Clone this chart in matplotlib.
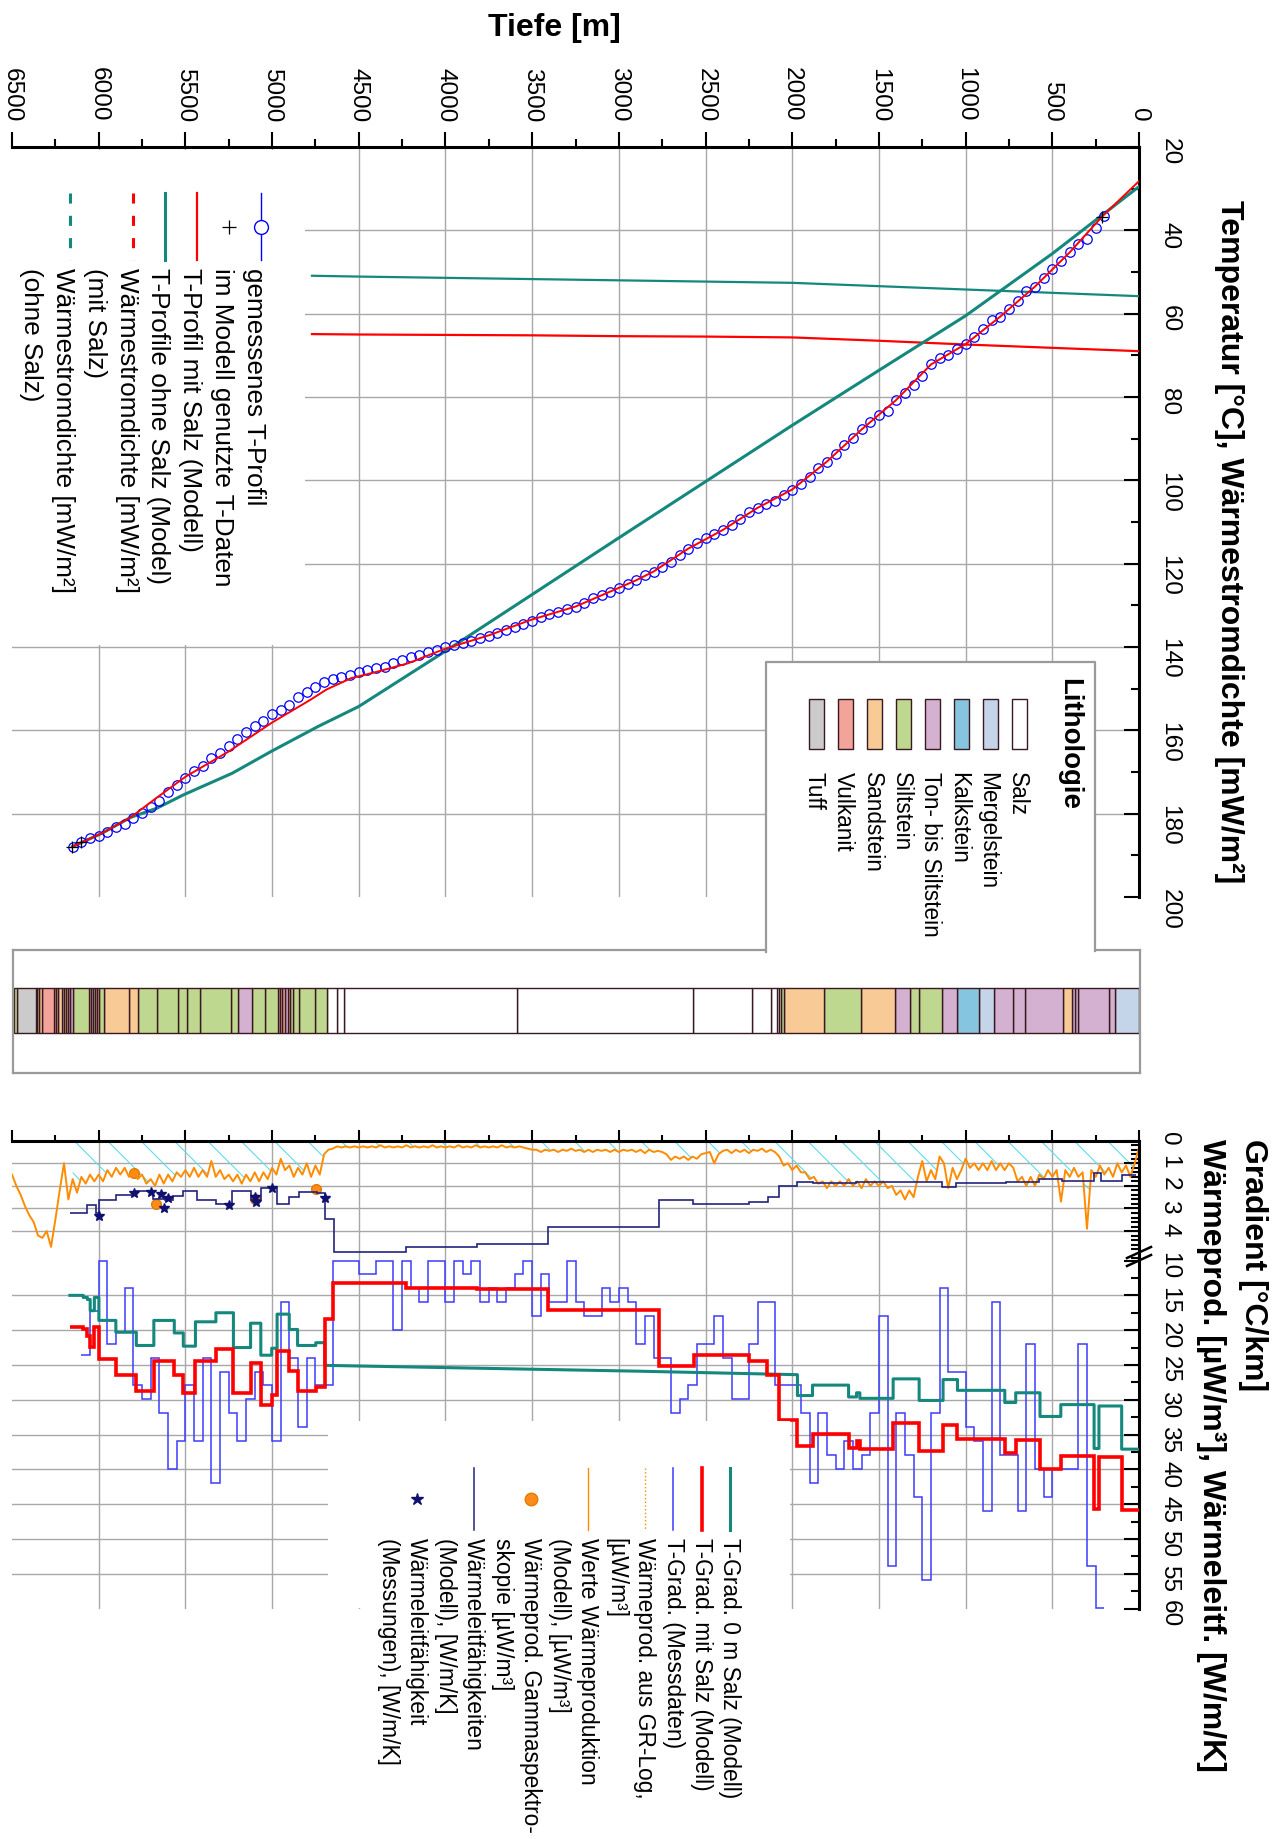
import numpy as np
import matplotlib
matplotlib.use("Agg")
import matplotlib.pyplot as plt
from matplotlib.patches import Rectangle
from matplotlib.ticker import MultipleLocator, FixedLocator, NullFormatter

plt.rcParams['font.family'] = ['Liberation Sans', 'DejaVu Sans']
CYAN = '#5fdcec'
plt.rcParams['hatch.linewidth'] = 0.8
plt.rcParams['hatch.color'] = CYAN

# ------------------------------------------------------------------ data
# measured temperature profile, one value every 50 m starting at 200 m
meas_temp = [36.5, 39.5, 42.2, 43.3, 45.3, 47.3, 49.3, 51.5, 53.5, 54.6,
             56.9, 58.8, 60.7, 61.5, 63.8, 65.6, 67.3, 68.6, 69.9, 70.6,
             72.2, 75.0, 77.2, 79.1, 80.7, 83.4, 84.3, 85.9, 87.8, 89.8,
             91.6, 93.6, 95.5, 97.1, 99.2, 100.8, 102.2, 103.6, 105.0, 105.8,
             106.6, 107.7, 109.2, 110.7, 111.9, 112.8, 113.9, 115.0, 116.4, 117.9,
             119.5, 120.7, 121.9, 122.8, 123.9,
             124.9, 125.9, 126.9, 127.5, 128.3, 129.5, 130.3, 130.9, 131.5, 132.1,
             132.9, 133.7, 134.5, 135.1, 135.9, 136.7, 137.4, 137.9, 138.6, 139.0,
             139.5, 140.1, 140.6, 141.1, 141.8, 142.5, 143.1, 143.8, 144.9, 145.1,
             145.5, 146.1, 146.7, 147.1, 147.7, 148.4, 149.5, 150.9, 152.1, 153.9,
             155.1, 156.1, 157.8, 159.0, 160.4, 162.0, 163.7, 165.4, 166.7, 168.6,
             169.8, 171.5, 173.0, 174.9, 176.9, 178.5, 179.9, 181.1, 182.5, 183.1,
             184.3, 185.4, 185.8, 186.7, 187.9]
meas_depth = 200 + 50 * np.arange(len(meas_temp))

# temperature points used in the model
used_depth = [213, 6101, 6152]
used_temp = [36.7, 186.7, 187.9]

# modelled T-profile with salt
red_T_depth = [0, 213, 400, 600, 800, 1000, 1200, 1400, 1600, 1800, 2000, 2200, 2400,
               2600, 2800, 2901, 3000, 3250, 3508, 3750, 4001, 4215, 4400, 4545, 4686,
               4780, 4999, 5251, 5498, 5663, 5816, 5981, 6151]
red_T = [28.2, 36.7, 45.3, 53.5, 60.7, 67.3, 72.2, 80.7, 87.8, 95.5, 102.2, 106.6, 111.9,
         116.4, 121.9, 124.0, 125.8, 130.3, 133.5, 137.2, 140.4, 143.9, 146.0, 147.5, 150.2,
         152.7, 158.1, 165.1, 171.1, 176.1, 180.9, 184.7, 187.9]

# modelled T-profile without salt
teal_T_depth = [0, 500, 1000, 1500, 2000, 2500, 3000, 3500, 4004, 4501, 4736, 5007,
                5230, 5512, 5665, 5816, 5981, 6151]
teal_T = [29.5, 45.6, 60.5, 73.6, 86.8, 100.3, 113.8, 127.4, 141.1, 154.3, 159.1, 165.1,
          170.3, 175.5, 178.7, 180.9, 184.7, 187.9]

# heat flow density [mW/m2]
hf_depth = [0, 500, 1000, 1500, 2000, 2500, 3000, 3500, 4000, 4500, 4770]
hf_salt = [69.0, 68.2, 67.4, 66.5, 65.7, 65.5, 65.4, 65.2, 65.1, 65.0, 64.9]
hf_nosalt = [55.8, 55.0, 54.2, 53.4, 52.6, 52.3, 52.0, 51.7, 51.4, 51.1, 50.9]

# lithology column
litho_names = ["Salz", "Mergelstein", "Kalkstein", "Ton- bis Siltstein", "Siltstein",
               "Sandstein", "Vulkanit", "Tuff"]
litho_colors = ["#ffffff", "#c4d5ea", "#86c5e0", "#d4b1d1", "#bfd88f", "#f7ca96",
                "#f2a39a", "#cbcbcb"]
litho_edges = [0, 137, 171, 353, 369, 388, 439, 656, 726, 836, 924, 1048, 1138, 1267, 1318,
               1406, 1602, 1819, 2050, 2062, 2078, 2090, 2122, 2230, 2572, 3588, 4588, 4628,
               4682, 4752, 4842, 4882, 4895, 4907, 4924, 4940, 4952, 4964, 5038, 5113, 5199,
               5235, 5414, 5488, 5540, 5665, 5771, 5827, 5969, 5997, 6012, 6023, 6035, 6046,
               6058, 6147, 6166, 6176, 6188, 6202, 6214, 6234, 6247, 6258, 6329, 6343, 6354,
               6364, 6469, 6489]
litho_units = ["Mergelstein", "Ton- bis Siltstein", "Ton- bis Siltstein", "Ton- bis Siltstein",
               "Ton- bis Siltstein", "Sandstein", "Ton- bis Siltstein", "Ton- bis Siltstein",
               "Ton- bis Siltstein", "Mergelstein", "Kalkstein", "Ton- bis Siltstein",
               "Siltstein", "Siltstein", "Ton- bis Siltstein", "Sandstein", "Siltstein",
               "Sandstein", "Siltstein",
               "Salz", "Salz", "Salz", "Salz", "Salz", "Salz", "Salz", "Salz", "Salz",
               "Siltstein", "Siltstein", "Siltstein", "Siltstein",
               "Vulkanit", "Ton- bis Siltstein", "Vulkanit", "Sandstein", "Ton- bis Siltstein",
               "Siltstein", "Siltstein", "Ton- bis Siltstein", "Siltstein", "Siltstein",
               "Siltstein", "Siltstein", "Siltstein", "Siltstein", "Sandstein", "Sandstein",
               "Siltstein", "Sandstein", "Vulkanit", "Siltstein", "Ton- bis Siltstein",
               "Vulkanit", "Siltstein", "Ton- bis Siltstein", "Ton- bis Siltstein",
               "Sandstein", "Sandstein", "Ton- bis Siltstein", "Sandstein", "Sandstein",
               "Vulkanit", "Vulkanit", "Sandstein", "Sandstein", "Vulkanit", "Tuff", "Siltstein"]

# measured T-gradient [degC/km], 50 m intervals starting at 200 m
tgrad_meas = [59.9, 53.9, 22, 40, 40, 40, 44, 40, 22, 46,
              38, 38, 16, 46, 36, 33.9, 26, 26, 13.9, 31.9,
              55.9, 44, 38, 31.9, 53.9, 18, 31.9, 38, 40, 36,
              40, 38, 31.9, 42, 31.9, 27.9, 27.9, 27.9, 16, 16,
              22, 29.9, 29.9, 24, 18, 22, 22, 27.9, 29.9, 31.9,
              24, 24, 18, 22, 16, 13.9, 16, 13.9, 18, 18,
              16, 10, 16, 16, 12, 18, 10, 12, 13.9, 16,
              13.9, 16, 10, 12, 10, 16, 10, 10, 16, 13.9,
              10, 20, 10, 10, 12, 12, 10, 10, 10, 27.9,
              27.9, 24, 33.9, 24, 16, 36, 27.9, 26, 29.9, 36,
              31.9, 26, 42, 24, 36, 27.9, 36, 40, 31.9, 24,
              29.9, 27.9, 13.9, 20.3, 22, 10, 17.2, 23.6]
tgrad_edges = 200 + 50 * np.arange(len(tgrad_meas) + 1)

# modelled gradients (layer boundaries in m)
grad_edges_top = [0, 100, 231, 259, 451, 571, 711, 774, 1047, 1130, 1268, 1418, 1610, 1629,
                  1675, 1883, 1970]
red_grad_top = [45.9, 38.2, 45.7, 38.1, 40.0, 35.8, 37.7, 35.6, 33.7, 37.4, 33.4, 37.1, 36.0,
                36.9, 34.9, 36.6]
teal_grad_top = [37.1, 30.9, 37.0, 30.7, 32.4, 29.0, 30.4, 28.65, 27.1, 30.1, 27.0, 29.8,
                 29.0, 29.6, 27.9, 29.4]
red_salt_edges = [1970, 2079, 2146, 2248, 2565, 2767, 3407, 3818, 4230, 4647, 4696]
red_grad_salt = [32.96, 26.4, 24.4, 23.5, 25.2, 17.15, 14.1, 13.9, 13.2, 18.4]
teal_salt_depth = [1970, 2882, 4696]
teal_grad_salt = [26.4, 25.9, 25.06]
grad_edges_deep = [4696, 4748, 4853, 4901, 4971, 5002, 5065, 5124, 5223, 5324, 5442, 5512,
                   5564, 5682, 5783, 5901, 5999, 6025, 6049, 6065, 6089, 6166]
red_grad_deep = [28.1, 28.8, 25.9, 23.0, 29.3, 30.7, 24.7, 29.1, 22.7, 24.5, 29.0, 26.5,
                 24.4, 28.8, 26.4, 24.2, 19.6, 22.4, 20.9, 19.8, 19.5]
teal_grad_deep = [21.8, 22.2, 19.9, 17.7, 22.6, 23.6, 19.0, 22.5, 17.5, 18.8, 22.3, 20.4,
                  18.6, 22.2, 20.3, 18.6, 15.3, 17.2, 15.6, 15.3, 15.0]

# thermal conductivity model [W/m/K]
k_edges = [19, 96, 221, 259, 442, 576, 768, 1057, 1134, 1268, 1633, 1883, 1970, 2075, 2142,
           2248, 2575, 2767, 3407, 3818, 4230, 4642, 4696, 4740, 4842, 4901, 4971, 5065, 5124,
           5230, 5324, 5435, 5512, 5571, 5618, 5689, 5783, 5901, 5999, 6018, 6065, 6166]
k_model = [1.52, 1.78, 1.44, 1.78, 1.71, 1.81, 1.89, 2.03, 1.81, 1.81, 1.86, 1.81, 2.0, 2.51,
           2.70, 2.80, 2.62, 3.80, 4.57, 4.72, 4.91, 3.48, 2.33, 2.26, 2.51, 2.82, 2.11, 2.62,
           2.21, 2.82, 2.62, 2.21, 2.45, 2.62, 2.59, 2.21, 2.40, 2.62, 3.2, 2.85, 3.21]
# conductivity measurements
k_meas_depth = [5998, 5797, 5699, 5640, 5600, 5623, 5251, 5098, 5091, 4999, 4693]
k_meas = [3.33, 2.33, 2.27, 2.37, 2.55, 2.96, 2.84, 2.51, 2.70, 2.11, 2.52]
# heat production from gamma spectroscopy
gamma_depth = [5797, 5668, 5098, 4749]
gamma_A = [1.41, 2.82, 2.58, 2.14]

# heat production from GR-log [uW/m3], every 25 m from 0 m
gr_A = [0.3, 1.0, 1.6, 1.1, 1.4, 1.0, 1.6, 1.2, 1.5, 1.1, 1.6, 1.3, 3.9, 1.4, 1.6, 1.2, 1.6,
        1.3, 2.7, 1.3, 1.6,
        1.3, 1.7, 1.5, 2.0, 1.6, 2.0, 1.6, 1.8, 1.2, 1.0, 1.3, 1.0, 1.3, 0.9, 1.3, 1.0, 1.3,
        1.0, 1.2, 0.8,
        1.3, 1.7, 1.2, 2.1, 1.0, 0.7, 1.7, 1.3, 1.8, 0.9, 1.6, 2.5, 2.2, 2.6, 2.2, 2.4, 2.0,
        2.1, 1.8, 2.0,
        1.8, 2.0, 1.7, 2.1, 1.8, 2.0, 1.7, 2.0, 1.8, 2.0, 1.8, 2.1, 1.8, 1.9, 1.6, 1.7, 1.4,
        1.4, 1.1, 1.3,
        1.0, 1.1, 0.7, 0.5, 0.4, 0.5, 0.35, 0.45, 0.4, 0.55, 0.4, 0.5, 0.4, 0.55, 0.4, 0.45,
        0.6, 1.0, 0.5, 0.55,
        0.6, 0.8, 0.7, 0.85, 0.7, 0.8, 0.7, 0.85, 0.6, 0.5, 0.45, 0.5, 0.4, 0.55, 0.4, 0.5,
        0.4, 0.45, 0.4, 0.5,
        0.4, 0.5, 0.4, 0.45, 0.4, 0.5, 0.4, 0.5, 0.4, 0.45, 0.35, 0.45, 0.4, 0.5, 0.4, 0.45,
        0.4, 0.5, 0.4, 0.4,
        0.35, 0.3, 0.25, 0.3, 0.25, 0.3, 0.2, 0.3, 0.25, 0.3, 0.25, 0.3, 0.2, 0.3, 0.25, 0.3,
        0.2, 0.3, 0.25, 0.3,
        0.25, 0.3, 0.2, 0.3, 0.25, 0.3, 0.25, 0.3, 0.2, 0.3, 0.25, 0.3, 0.25, 0.3, 0.2, 0.3,
        0.25, 0.3, 0.25, 0.3,
        0.25, 0.3, 0.25, 0.3, 0.25, 0.35, 0.4, 0.6, 1.5, 1.1, 1.6, 1.0, 1.5, 1.2, 1.6, 1.1,
        1.3, 0.8, 1.5, 1.2,
        1.7, 1.4, 1.8, 1.4, 1.8, 1.5, 1.9, 1.5, 1.8, 1.5, 1.7, 1.3, 1.6, 0.9, 1.6, 1.3, 1.6,
        1.2, 1.6, 1.3,
        1.6, 1.4, 1.8, 1.5, 1.9, 1.5, 2.0, 1.7, 1.9, 1.5, 1.7, 1.3, 1.6, 1.2, 1.5, 1.2, 1.6,
        1.3, 1.8, 1.5,
        1.8, 1.5, 1.9, 1.6, 2.3, 1.7, 2.6, 1.0, 2.2, 3.5, 4.7, 4.0, 4.3, 4.2, 3.6, 3.3, 2.9,
        2.4, 2.0, 1.5]
gr_depth = 25 * np.arange(len(gr_A))

depth_ticks = np.arange(0, 6501, 500)
temp_ticks = np.arange(20, 201, 20)
grad_ticks = [0, 1, 2, 3, 4, 10, 15, 20, 25, 30, 35, 40, 45, 50, 55, 60]
grad_grid = [1, 2, 3, 4, 15, 20, 25, 30, 35, 40, 45, 50, 55]

# ------------------------------------------------------------------ styles
TEAL = '#15887e'
RED = '#ff0000'
BLUE = '#0000ff'
BLUE2 = '#3c3cff'
NAVY = '#23237d'
ORANGE = '#ff8c00'
GRID = '#a8a8a8'
FRAME = '#9a9a9a'
EDGE = '#3a1820'
TICK_FS = 17.6
TITLE_FS = 23.0

W, H = 1274, 1839
fig = plt.figure(figsize=(W / 100, H / 100), dpi=100)
fig.patch.set_facecolor('white')


def rect(x0, y0, x1, y1):
    return [x0 / W, 1 - y1 / H, (x1 - x0) / W, (y1 - y0) / H]


X0, X1 = 12, 1139

# ------------------------------------------------------------------ panel 1: temperature
ax1 = fig.add_axes(rect(X0, 147, X1, 897))
ax1.set_xlim(6500, 0)
ax1.set_ylim(200, 20)
for s in ['left', 'bottom']:
    ax1.spines[s].set_visible(False)
for s in ['top', 'right']:
    ax1.spines[s].set_linewidth(2.2)
ax1.xaxis.set_ticks_position('top')
ax1.yaxis.set_ticks_position('right')
ax1.set_xticks(depth_ticks)
ax1.xaxis.set_minor_locator(MultipleLocator(250))
ax1.set_yticks(temp_ticks)
ax1.yaxis.set_minor_locator(MultipleLocator(10))
ax1.tick_params(axis='x', which='major', direction='out', length=11, width=1.5,
                labelsize=TICK_FS, labelrotation=-90, pad=7)
ax1.tick_params(axis='x', which='minor', direction='out', length=6, width=1.5)
ax1.tick_params(axis='y', which='major', direction='in', length=11, width=1.5,
                labelsize=TICK_FS, labelrotation=-90, pad=14)
ax1.tick_params(axis='y', which='minor', direction='in', length=6, width=1.5)
for d in depth_ticks[1:-1]:
    ax1.axvline(d, color=GRID, lw=1.0, zorder=0)
for t in temp_ticks[1:-1]:
    ax1.axhline(t, color=GRID, lw=1.0, zorder=0)

ax1.plot(hf_depth, hf_nosalt, color=TEAL, lw=1.6, zorder=3)
ax1.plot(hf_depth, hf_salt, color=RED, lw=1.6, zorder=3)
ax1.plot(teal_T_depth, teal_T, color=TEAL, lw=2.2, zorder=3)
ax1.plot(meas_depth, meas_temp, 'o', mfc='none', mec=BLUE, ms=6.8, mew=0.9, zorder=4)
ax1.plot(red_T_depth, red_T, color=RED, lw=1.4, zorder=5)
ax1.plot(used_depth, used_temp, '+', color='black', ms=9, mew=0.9, zorder=6)

# ------------------------------------------------------------------ lithology column
axL = fig.add_axes(rect(X0 + 1, 950, X1 + 1, 1073))
axL.set_xlim(6500 - 6500 / 1127.0, -6500 / 1127.0)
axL.set_ylim(0, 1)
axL.set_xticks([])
axL.set_yticks([])
for s in axL.spines.values():
    s.set_color(FRAME)
    s.set_linewidth(1.6)
color_of = dict(zip(litho_names, litho_colors))
lt = np.array(litho_edges[:-1])
lb = np.array(litho_edges[1:])
axL.bar(lt, 0.366, width=lb - lt, bottom=0.325, align='edge',
        color=[color_of[u] for u in litho_units], edgecolor=EDGE, linewidth=1.0)

# ------------------------------------------------------------------ panel 2: gradients
VB = 5.3
UPPER = 6.96 / 22.6


def fwd(v):
    v = np.asarray(v, dtype=float)
    return np.where(v <= VB, v,
                    np.where(v < 10, VB + (v - VB) * 0.001,
                             VB + 0.0047 + (v - 10) * UPPER))


def inv(u):
    u = np.asarray(u, dtype=float)
    return np.where(u <= VB, u,
                    np.where(u < VB + 0.0047, VB + (u - VB) / 0.001,
                             10 + (u - VB - 0.0047) / UPPER))


ax2 = fig.add_axes(rect(X0, 1140.7, X1, 1608.5))
ax2.set_xlim(6500, 0)
ax2.set_yscale('function', functions=(fwd, inv))
ax2.set_ylim(60, 0)
for s in ['left', 'bottom']:
    ax2.spines[s].set_visible(False)
for s in ['top', 'right']:
    ax2.spines[s].set_linewidth(2.2)
ax2.xaxis.set_ticks_position('top')
ax2.yaxis.set_ticks_position('right')
ax2.set_xticks(depth_ticks)
ax2.xaxis.set_minor_locator(MultipleLocator(250))
ax2.tick_params(axis='x', which='major', direction='out', length=8, width=1.5,
                labeltop=False, labelbottom=False)
ax2.tick_params(axis='x', which='minor', direction='out', length=4.5, width=1.5)
ax2.yaxis.set_major_locator(FixedLocator(grad_ticks))
ax2.set_yticklabels([str(t) for t in grad_ticks])
minor_low = [round(0.2 * i, 1) for i in range(1, 27) if (0.2 * i) % 1 > 0.05 and (0.2 * i) % 1 < 0.95]
minor_up = [12.5 + 5 * i for i in range(10)]
ax2.yaxis.set_minor_locator(FixedLocator(minor_low + minor_up))
ax2.yaxis.set_minor_formatter(NullFormatter())
ax2.tick_params(axis='y', which='major', direction='in', length=11, width=1.5,
                labelsize=TICK_FS, labelrotation=-90, pad=14)
ax2.tick_params(axis='y', which='minor', direction='in', length=6, width=1.5)
for d in depth_ticks[1:-1]:
    ax2.axvline(d, color=GRID, lw=1.0, zorder=0)
for g in grad_grid:
    ax2.axhline(g, color=GRID, lw=1.0, zorder=0)

gr_depth_arr = np.asarray(gr_depth)
ax2.fill_between(gr_depth_arr, 0, gr_A, where=gr_depth_arr <= 6170, facecolor='none',
                 edgecolor=CYAN, hatch='\\', linewidth=0, zorder=1)
ax2.plot(gamma_depth, gamma_A, 'o', color='#ff8c1a', mec='#e07a00', ms=7, zorder=1.5)
ax2.plot(gr_depth, gr_A, color=ORANGE, lw=1.4, zorder=2)
ax2.stairs(k_model, k_edges, baseline=None, color=NAVY, lw=1.2, zorder=3)
ax2.stairs(tgrad_meas, tgrad_edges, baseline=None, color=BLUE2, lw=1.1, zorder=3)


def step_points(edges, vals):
    xs, ys = [], []
    for i, v in enumerate(vals):
        xs += [edges[i], edges[i + 1]]
        ys += [v, v]
    return xs, ys


tx1, ty1 = step_points(grad_edges_top, teal_grad_top)
tx3, ty3 = step_points(grad_edges_deep, teal_grad_deep)
ax2.plot(tx1 + teal_salt_depth + tx3, ty1 + teal_grad_salt + ty3, color=TEAL, lw=2.2, zorder=4)
red_edges_all = grad_edges_top + red_salt_edges[1:] + grad_edges_deep[1:]
red_vals_all = red_grad_top + red_grad_salt + red_grad_deep
ax2.stairs(red_vals_all, red_edges_all, baseline=None, color=RED, lw=2.6, zorder=5)
ax2.plot(k_meas_depth, k_meas, '*', color='#101070', ms=7, zorder=6)

# ------------------------------------------------------------------ overlay (pixel coords)
ov = fig.add_axes([0, 0, 1, 1], zorder=10)
ov.set_xlim(0, W)
ov.set_ylim(H, 0)
ov.axis('off')
ov.patch.set_alpha(0)


def vtext(x, y, s, size, bold=False):
    ov.text(x, y, s, rotation=-90, rotation_mode='anchor', ha='left', va='baseline',
            fontsize=size, fontweight='bold' if bold else 'normal')


# axis titles
ov.text(554, 28, "Tiefe [m]", ha='center', va='center', fontsize=TITLE_FS, fontweight='bold')
vtext(1221, 200, "Temperatur [°C], Wärmestromdichte [mW/m²]", TITLE_FS, True)
vtext(1245, 1139, "Gradient [°C/km]", TITLE_FS, True)
vtext(1203, 1139, "Wärmeprod. [µW/m³], Wärmeleitf. [W/m/K]", TITLE_FS, True)

# axis break mark
ov.plot([1127, 1151], [1258, 1247], color='black', lw=1.8)
ov.plot([1127, 1151], [1266, 1255], color='black', lw=1.8)

# legend 1 (temperature panel)
ov.add_patch(Rectangle((12, 150), 293, 495, facecolor='white', edgecolor='none'))
leg1 = ["gemessenes T-Profil", "im Modell genutzte T-Daten", "T-Profil mit Salz (Modell)",
        "T-Profile ohne Salz (Model)", "Wärmestromdichte [mW/m²]", "(mit Salz)",
        "Wärmestromdichte [mW/m²]", "(ohne Salz)"]
for i, s in enumerate(leg1):
    vtext(247 - 31.85 * i, 268, s, 18.8)
hx = [247 - 31.85 * i + 13.7 for i in range(8)]
ov.plot([hx[0], hx[0]], [193, 260], color=BLUE, lw=1.0)
ov.plot([hx[0]], [226.5], 'o', mfc='white', mec=BLUE, ms=10, mew=1.0)
ov.plot([hx[1]], [226.5], '+', color='black', ms=10, mew=0.9)
ov.plot([hx[2], hx[2]], [193, 260], color=RED, lw=1.6)
ov.plot([hx[3], hx[3]], [193, 260], color=TEAL, lw=2.2)
ov.plot([hx[4], hx[4]], [193, 260], color=RED, lw=2.2, dashes=(3.3, 4.0))
ov.plot([hx[6], hx[6]], [193, 260], color=TEAL, lw=2.2, dashes=(3.3, 4.0))

# lithology legend
ov.add_patch(Rectangle((766, 662), 329, 290, facecolor='white', edgecolor='none'))
ov.plot([766, 766, 1095, 1095], [952, 662, 662, 951], color=FRAME, lw=1.6)
vtext(1062, 678, "Lithologie", 19.9, True)
for i, (name, col) in enumerate(zip(litho_names, litho_colors)):
    ov.add_patch(Rectangle((1012.3 - 29.0 * i, 699), 14.5, 50, facecolor=col,
                           edgecolor=EDGE, lw=1.0))
    vtext(1010.5 - 28.96 * i, 771.7, name, 16.3)

# legend 2 (gradient panel)
ov.add_patch(Rectangle((328, 1421), 462, 1608 - 1421, facecolor='white', edgecolor='none'))
leg2 = ["T-Grad. 0 m Salz (Modell)", "T-Grad. mit Salz (Modell)", "T-Grad. (Messdaten)",
        "Wärmeprod. aus GR-Log,", "[µW/m³]", "Werte Wärmeproduktion", "(Modell), [µW/m³]",
        "Wärmeprod. Gammaspektro-", "skopie [µW/m³]", "Wärmeleitfähigkeiten",
        "(Modell), [W/m/K]", "Wärmeleitfähigkeit", "(Messungen), [W/m/K]"]
for i, s in enumerate(leg2):
    vtext(723.5 - 28.47 * i, 1538, s, 16.4)
bx = [723.5 - 28.47 * i + 6.8 for i in range(13)]
ov.plot([bx[0], bx[0]], [1468, 1530], color=TEAL, lw=2.2)
ov.plot([bx[1], bx[1]], [1468, 1530], color=RED, lw=2.6)
ov.plot([bx[2], bx[2]], [1468, 1530], color=BLUE2, lw=1.1)
ov.plot([bx[3], bx[3]], [1468, 1530], color=ORANGE, lw=1.0, ls=':')
ov.plot([bx[5], bx[5]], [1468, 1530], color=ORANGE, lw=1.0)
ov.plot([bx[7]], [1499], 'o', color='#ff8c1a', mec='#e07a00', ms=9)
ov.plot([bx[9], bx[9]], [1468, 1530], color=NAVY, lw=1.1)
ov.plot([bx[11]], [1499], '*', color='#101070', ms=9)

fig.savefig('out.png', dpi=100)
